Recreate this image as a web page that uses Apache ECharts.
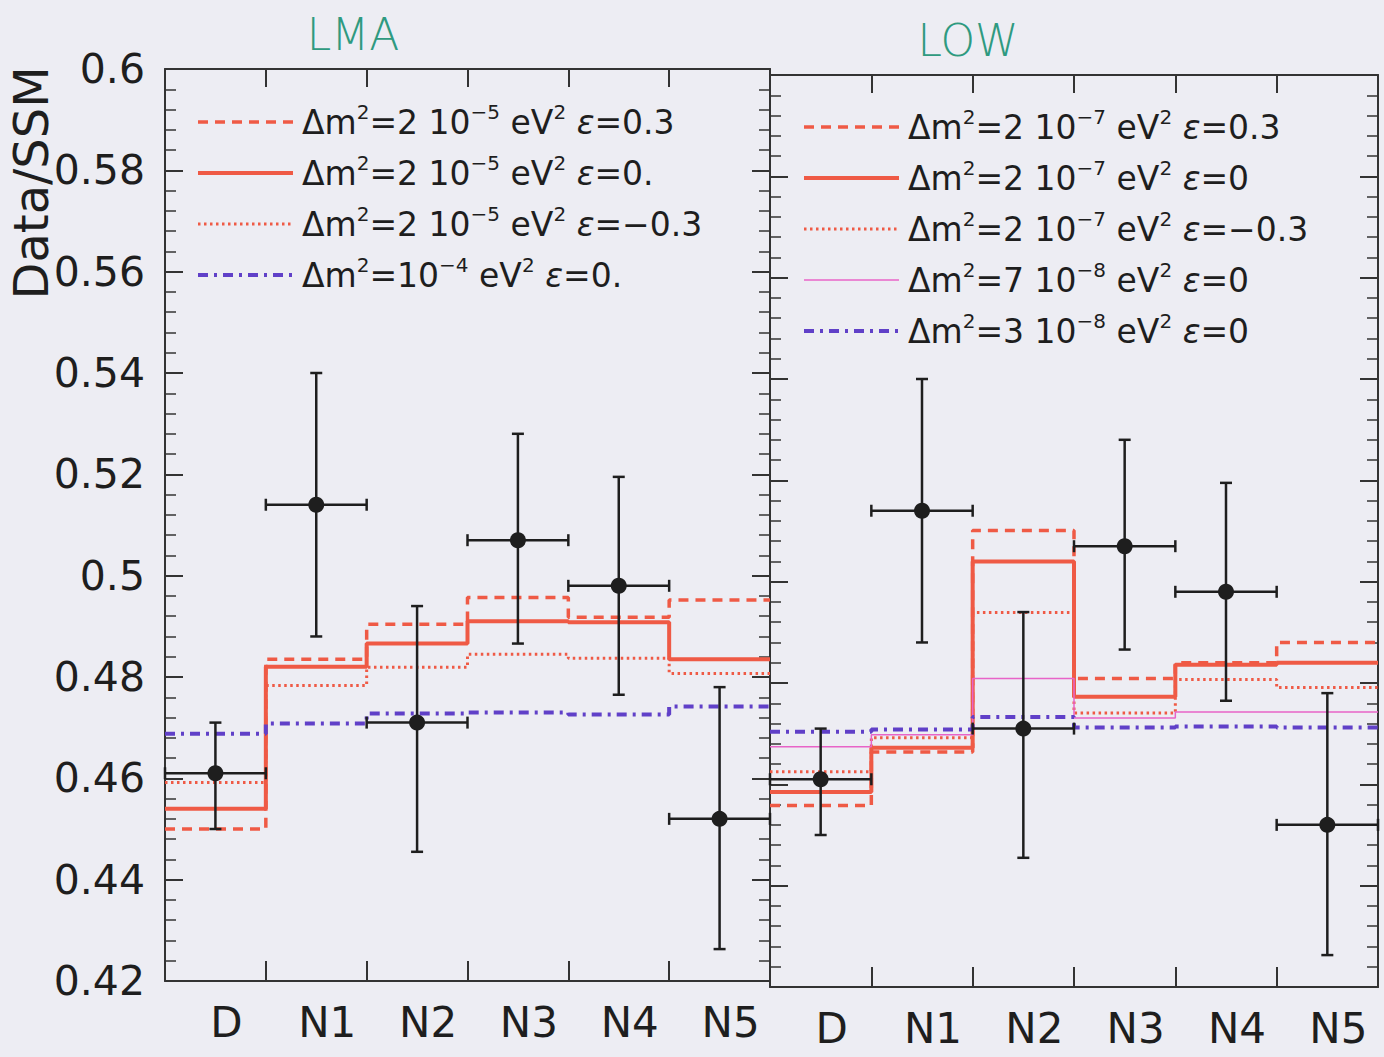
<!DOCTYPE html>
<html>
<head>
<meta charset="utf-8">
<script src="https://cdn.jsdelivr.net/npm/echarts@6/dist/echarts.min.js"></script>
<style>
  html, body { margin: 0; padding: 0; background: #ededf3; }
  #chart { width: 1384px; height: 1057px; }
</style>
</head>
<body>
<div id="chart"></div>
<script>
// bins of the day/night spectrum
const bins = ['D', 'N1', 'N2', 'N3', 'N4', 'N5']

// measured points with errors (same in both panels)
const dataVals = [0.461, 0.514, 0.471, 0.507, 0.498, 0.452]
const dataLo = [0.450, 0.488, 0.4455, 0.4866, 0.4765, 0.4263]
const dataHi = [0.471, 0.540, 0.494, 0.528, 0.5195, 0.478]

// LMA predictions
const lmaEpsP03 = [0.450, 0.4835, 0.4904, 0.4957, 0.4918, 0.4952]
const lmaEps0 = [0.454, 0.482, 0.4866, 0.491, 0.4908, 0.4835]
const lmaEpsM03 = [0.4592, 0.4783, 0.4819, 0.4845, 0.4837, 0.4807]
const lmaDm1e4 = [0.4688, 0.4708, 0.4728, 0.473, 0.4726, 0.4742]

// LOW predictions
const lowEpsP03 = [0.4558, 0.4664, 0.5101, 0.4809, 0.484, 0.488]
const lowEps0 = [0.4585, 0.4672, 0.504, 0.4773, 0.4836, 0.484]
const lowEpsM03 = [0.4625, 0.4692, 0.4939, 0.4741, 0.4807, 0.4791]
const low7e8 = [0.4674, 0.4698, 0.4809, 0.4731, 0.4743, 0.4743]
const low3e8 = [0.4704, 0.4708, 0.4733, 0.4712, 0.4714, 0.4712]

const lmaNames = [
    'Δm²=2 10⁻⁵ eV² ε=0.3',
    'Δm²=2 10⁻⁵ eV² ε=0.',
    'Δm²=2 10⁻⁵ eV² ε=−0.3',
    'Δm²=10⁻⁴ eV² ε=0.'
]
const lowNames = [
    'Δm²=2 10⁻⁷ eV² ε=0.3',
    'Δm²=2 10⁻⁷ eV² ε=0',
    'Δm²=2 10⁻⁷ eV² ε=−0.3',
    'Δm²=7 10⁻⁸ eV² ε=0',
    'Δm²=3 10⁻⁸ eV² ε=0'
]
// same labels with real superscripts for the legend
const lmaLabels = [
    'Δm{s|2}=2 10{s|−5} eV{s|2} {e|ε}=0.3',
    'Δm{s|2}=2 10{s|−5} eV{s|2} {e|ε}=0.',
    'Δm{s|2}=2 10{s|−5} eV{s|2} {e|ε}=−0.3',
    'Δm{s|2}=10{s|−4} eV{s|2} {e|ε}=0.'
]
const lowLabels = [
    'Δm{s|2}=2 10{s|−7} eV{s|2} {e|ε}=0.3',
    'Δm{s|2}=2 10{s|−7} eV{s|2} {e|ε}=0',
    'Δm{s|2}=2 10{s|−7} eV{s|2} {e|ε}=−0.3',
    'Δm{s|2}=7 10{s|−8} eV{s|2} {e|ε}=0',
    'Δm{s|2}=3 10{s|−8} eV{s|2} {e|ε}=0'
]

const RED = '#ef5a45'
const PINK = '#e864c8'
const PURPLE = '#6040c8'
const INK = '#1e1e1e'
const FONT = 'DejaVu Sans'

const styles = {
    dashed: {color: RED, width: 3.5, type: [10, 7]},
    solid: {color: RED, width: 4, type: 'solid'},
    dotted: {color: RED, width: 3, type: [2.5, 3.5]},
    thin: {color: PINK, width: 1.5, type: 'solid'},
    dashdot: {color: PURPLE, width: 4, type: [10, 6, 3, 6]}
}
const lmaStyles = [styles.dashed, styles.solid, styles.dotted, styles.dashdot]
const lowStyles = [styles.dashed, styles.solid, styles.dotted, styles.thin, styles.dashdot]

function stepData (vals) {
    const d = vals.map((v, i) => [i, v])
    d.push([vals.length, vals[vals.length - 1]])
    return d
}

function stepSeries (name, vals, panel, style) {
    return {
        name: name,
        type: 'line',
        step: 'end',
        xAxisIndex: panel * 3,
        yAxisIndex: panel * 2,
        data: stepData(vals),
        symbol: 'none',
        color: style.color,
        lineStyle: style,
        silent: true,
        z: 3
    }
}

function errorSeries (panel) {
    return {
        type: 'custom',
        xAxisIndex: panel * 3,
        yAxisIndex: panel * 2,
        data: dataVals.map((v, i) => [i + 0.5, v, dataLo[i], dataHi[i]]),
        encode: {x: 0, y: 1},
        silent: true,
        z: 5,
        renderItem: function (params, api) {
            const x = api.value(0)
            const c = api.coord([x, api.value(1)])
            const lo = api.coord([x, api.value(2)])
            const hi = api.coord([x, api.value(3)])
            const l = api.coord([x - 0.5, api.value(1)])
            const r = api.coord([x + 0.5, api.value(1)])
            const st = {stroke: INK, lineWidth: 2.5}
            const cap = 6
            return {
                type: 'group',
                children: [
                    {type: 'line', shape: {x1: c[0], y1: lo[1], x2: c[0], y2: hi[1]}, style: st},
                    {type: 'line', shape: {x1: c[0] - cap, y1: lo[1], x2: c[0] + cap, y2: lo[1]}, style: st},
                    {type: 'line', shape: {x1: c[0] - cap, y1: hi[1], x2: c[0] + cap, y2: hi[1]}, style: st},
                    {type: 'line', shape: {x1: l[0], y1: c[1], x2: r[0], y2: c[1]}, style: st},
                    {type: 'line', shape: {x1: l[0], y1: c[1] - cap, x2: l[0], y2: c[1] + cap}, style: st},
                    {type: 'line', shape: {x1: r[0], y1: c[1] - cap, x2: r[0], y2: c[1] + cap}, style: st},
                    {type: 'circle', shape: {cx: c[0], cy: c[1], r: 8}, style: {fill: INK}}
                ]
            }
        }
    }
}

const axisLine = {show: true, onZero: false, lineStyle: {color: '#333', width: 2}}

function xAxes (panel) {
    return [
        {
            gridIndex: panel, type: 'value', position: 'bottom', min: 0, max: 6, interval: 1,
            axisLine: axisLine,
            axisTick: {show: true, inside: true, length: 20, lineStyle: {color: '#333', width: 2}},
            axisLabel: {show: false}, splitLine: {show: false}
        },
        {
            gridIndex: panel, type: 'value', position: 'top', min: 0, max: 6, interval: 1,
            axisLine: axisLine,
            axisTick: {show: true, inside: true, length: 18, lineStyle: {color: '#333', width: 2}},
            axisLabel: {show: false}, splitLine: {show: false}
        },
        {
            gridIndex: panel, type: 'category', position: 'bottom', data: bins,
            axisLine: {show: false, onZero: false}, axisTick: {show: false}, splitLine: {show: false},
            axisLabel: {
                show: true, margin: 20, fontFamily: FONT, fontSize: 42, color: INK,
                padding: [0, 0, 0, 22]
            }
        }
    ]
}

function yAxes (panel) {
    const base = {
        gridIndex: panel, type: 'value', min: 0.42, max: 0.6, interval: 0.02,
        axisLine: axisLine,
        axisTick: {show: true, inside: true, length: 18, lineStyle: {color: '#333', width: 2}},
        minorTick: {show: true, splitNumber: 5, length: 11, lineStyle: {color: '#333', width: 1.5}},
        splitLine: {show: false}, minorSplitLine: {show: false}
    }
    return [
        Object.assign({}, base, {
            position: 'left',
            axisLabel: {show: panel === 0, margin: 20, fontFamily: FONT, fontSize: 41, color: INK}
        }),
        Object.assign({}, base, {position: 'right', axisLabel: {show: false}})
    ]
}

function legendFor (names, labels, lineStyles, left, top) {
    return {
        data: names.map((n, i) => ({name: n, lineStyle: {width: lineStyles[i].width}})),
        left: left,
        top: top,
        orient: 'vertical',
        itemWidth: 95,
        itemHeight: 14,
        itemGap: 11,
        selectedMode: false,
        itemStyle: {opacity: 0},
        formatter: name => labels[names.indexOf(name)],
        textStyle: {
            fontFamily: FONT, fontSize: 33, color: INK, lineHeight: 40, padding: [0, 0, 0, 4],
            rich: {
                s: {fontFamily: FONT, fontSize: 20, lineHeight: 22, verticalAlign: 'top', color: INK},
                e: {fontFamily: FONT, fontSize: 33, lineHeight: 40, fontStyle: 'italic', color: INK}
            }
        }
    }
}

const option = {
    backgroundColor: '#ededf3',
    animation: false,
    grid: [
        {left: 165, top: 69, width: 605, height: 912},
        {left: 770, top: 75, width: 608, height: 912}
    ],
    xAxis: xAxes(0).concat(xAxes(1)),
    yAxis: yAxes(0).concat(yAxes(1)),
    legend: [
        legendFor(lmaNames, lmaLabels, lmaStyles, 191, 97),
        legendFor(lowNames, lowLabels, lowStyles, 797, 102)
    ],
    graphic: [
        {
            type: 'text', x: 31, y: 183, rotation: Math.PI / 2,
            style: {text: 'Data/SSM', font: '48px "DejaVu Sans"', fill: INK, align: 'center', verticalAlign: 'middle'}
        },
        {
            type: 'text', x: 353, y: 34,
            style: {text: 'LMA', font: '300 44px "DejaVu Sans"', fill: '#2f9a80', align: 'center', verticalAlign: 'middle'}
        },
        {
            type: 'text', x: 968, y: 40,
            style: {text: 'LOW', font: '300 44px "DejaVu Sans"', fill: '#2f9a80', align: 'center', verticalAlign: 'middle'}
        }
    ],
    series: [
        stepSeries(lmaNames[0], lmaEpsP03, 0, styles.dashed),
        stepSeries(lmaNames[1], lmaEps0, 0, styles.solid),
        stepSeries(lmaNames[2], lmaEpsM03, 0, styles.dotted),
        stepSeries(lmaNames[3], lmaDm1e4, 0, styles.dashdot),
        errorSeries(0),
        stepSeries(lowNames[0], lowEpsP03, 1, styles.dashed),
        stepSeries(lowNames[1], lowEps0, 1, styles.solid),
        stepSeries(lowNames[2], lowEpsM03, 1, styles.dotted),
        stepSeries(lowNames[3], low7e8, 1, styles.thin),
        stepSeries(lowNames[4], low3e8, 1, styles.dashdot),
        errorSeries(1)
    ]
}

const chart = echarts.init(document.getElementById('chart'), null, {renderer: 'svg'})
chart.setOption(option)
</script>
</body>
</html>
